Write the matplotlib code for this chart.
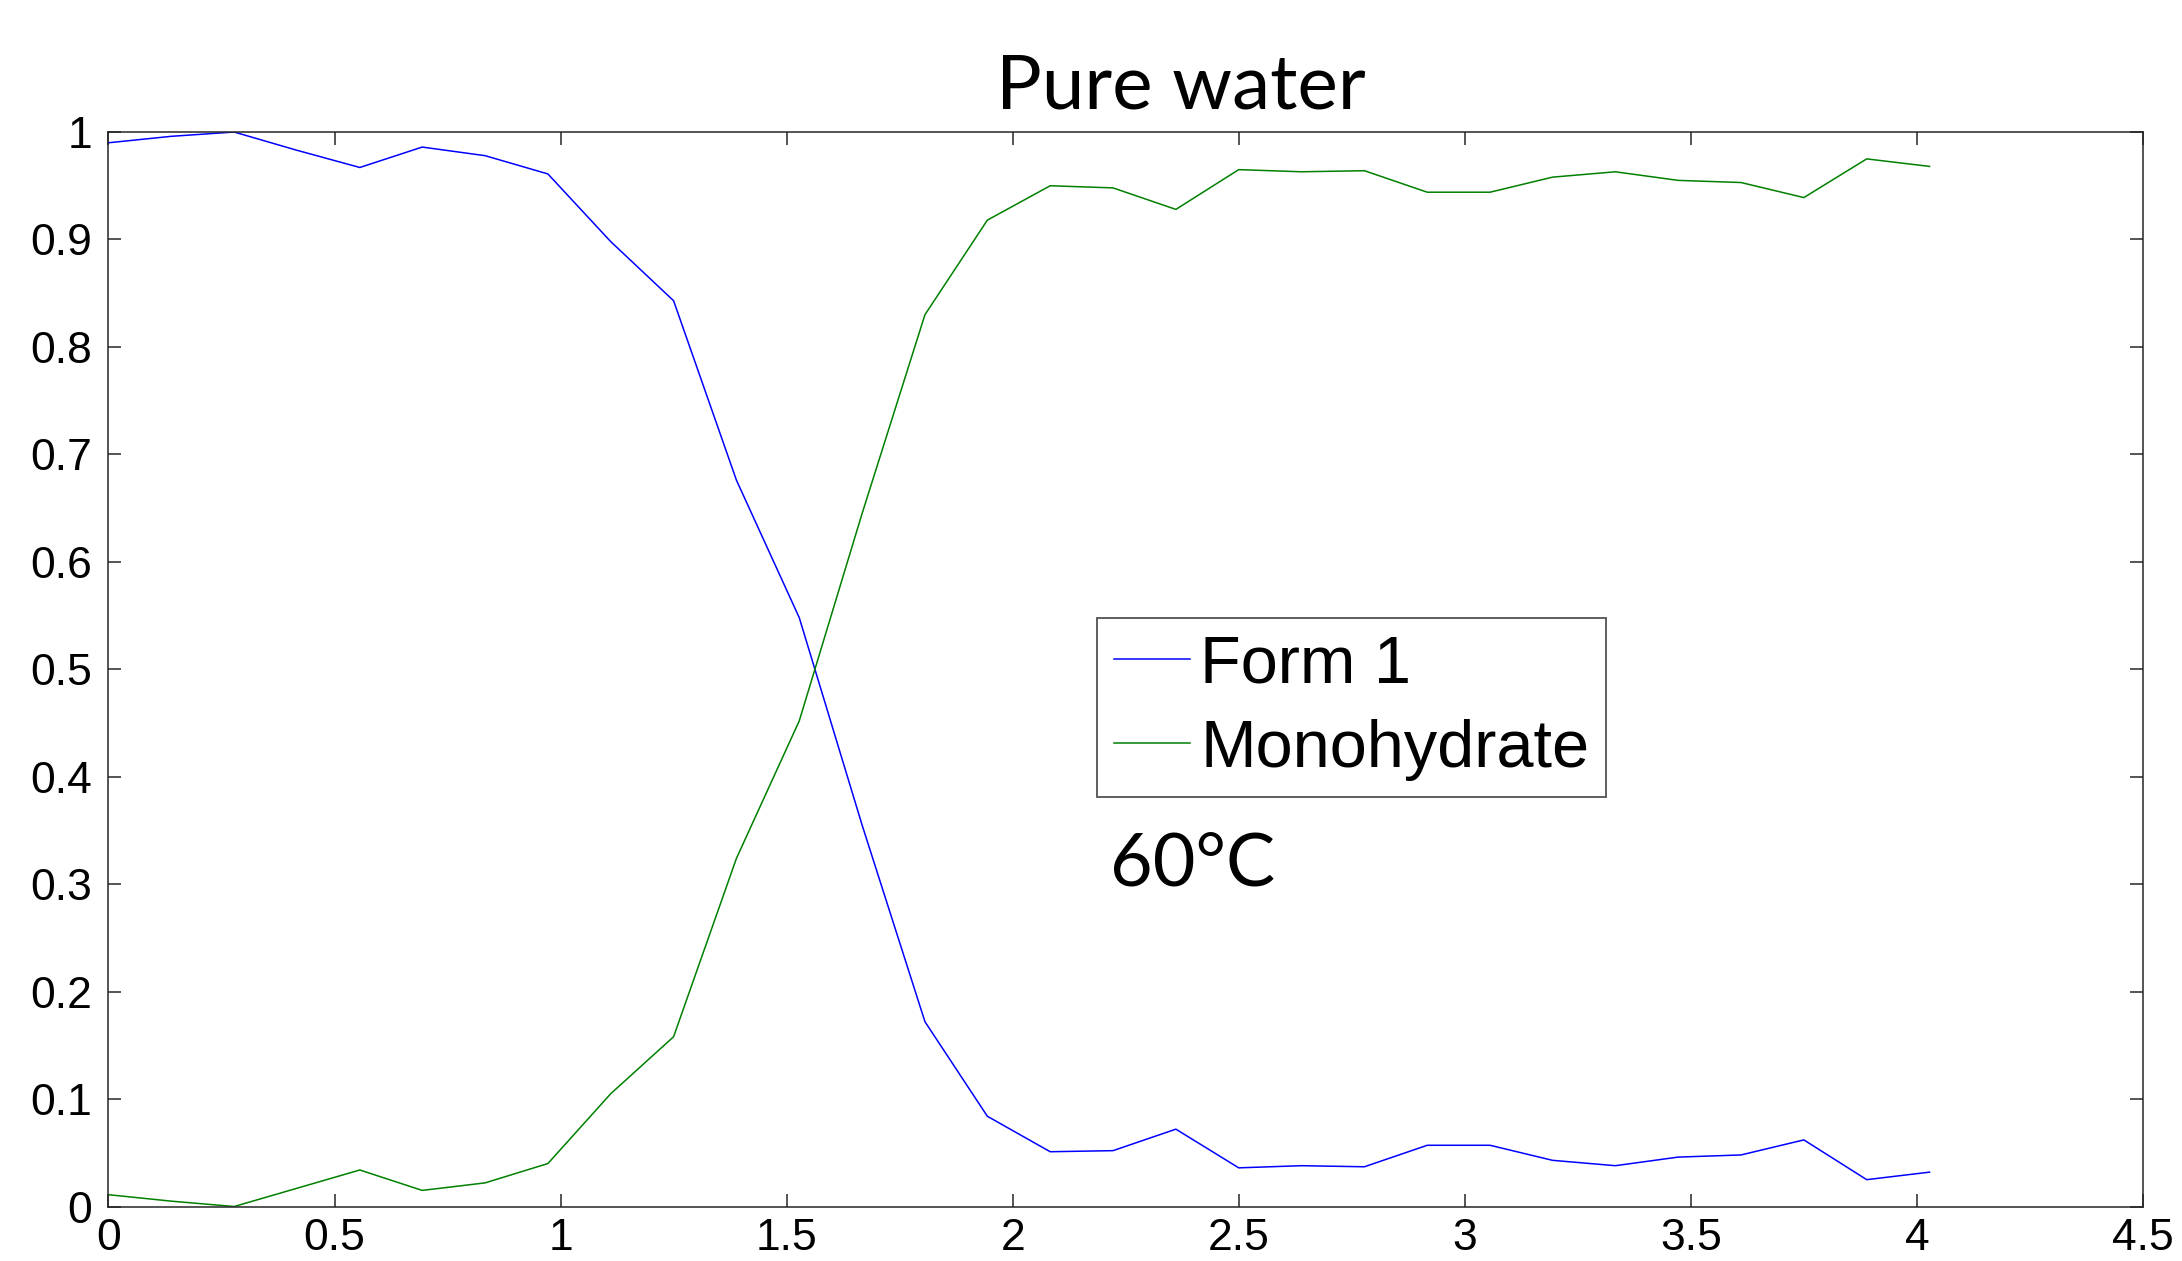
import matplotlib
matplotlib.use("Agg")
import matplotlib.pyplot as plt

# time axis (sampling every ~0.139)
time = [0.000, 0.139, 0.278, 0.417, 0.556, 0.694, 0.833, 0.972, 1.111, 1.250,
        1.389, 1.528, 1.667, 1.806, 1.944, 2.083, 2.222, 2.361, 2.500, 2.639,
        2.778, 2.917, 3.056, 3.194, 3.333, 3.472, 3.611, 3.750, 3.889, 4.028]
form1 = [0.990, 0.996, 1.000, 0.983, 0.967, 0.986, 0.978, 0.961, 0.898, 0.843,
         0.676, 0.548, 0.355, 0.172, 0.084, 0.051, 0.052, 0.072, 0.036, 0.038,
         0.037, 0.057, 0.057, 0.043, 0.038, 0.046, 0.048, 0.062, 0.025, 0.032]
mono = [0.011, 0.005, 0.000, 0.017, 0.034, 0.015, 0.022, 0.040, 0.105, 0.158,
        0.324, 0.452, 0.645, 0.830, 0.918, 0.950, 0.948, 0.928, 0.965, 0.963,
        0.964, 0.944, 0.944, 0.958, 0.963, 0.955, 0.953, 0.939, 0.975, 0.968]
labels = ["Form 1", "Monohydrate"]
xticks = [0, 0.5, 1, 1.5, 2, 2.5, 3, 3.5, 4, 4.5]
yticks = [0, 0.1, 0.2, 0.3, 0.4, 0.5, 0.6, 0.7, 0.8, 0.9, 1]

tick_font = ["Liberation Sans", "DejaVu Sans"]

fig = plt.figure(figsize=(21.82, 12.61), dpi=100)
ax = fig.add_axes([0.0497, 0.0432, 0.9324, 0.8521])

ax.plot(time, form1, color=(0, 0, 1), lw=1.1, label=labels[0])
ax.plot(time, mono, color=(0, 0.5, 0), lw=1.1, label=labels[1])

ax.set_xlim(0, 4.5)
ax.set_ylim(0, 1)
ax.set_xticks(xticks)
ax.set_xticklabels([f"{t:g}" for t in xticks])
ax.set_yticks(yticks)
ax.set_yticklabels([f"{t:g}" for t in yticks])
ax.tick_params(direction="in", length=9.5, width=1.1, color="#262626",
               top=True, right=True, labelsize=32)
ax.tick_params(axis="x", pad=8)
ax.tick_params(axis="y", pad=12)
for lab in ax.get_xticklabels() + ax.get_yticklabels():
    lab.set_family(tick_font)
for sp in ax.spines.values():
    sp.set_color("#262626")
    sp.set_linewidth(1.1)

leg = ax.legend(loc="upper left", bbox_to_anchor=(0.5028, 0.5099),
                bbox_transform=fig.transFigure, fancybox=False,
                prop={"family": tick_font, "size": 48},
                handlelength=1.15, handletextpad=0.15, borderpad=0.25,
                labelspacing=0.33, borderaxespad=0)
leg.get_frame().set_edgecolor("#262626")
leg.get_frame().set_linewidth(1.3)

fig.text(0.541, 0.914, "Pure water", ha="center", va="baseline",
         family="Lato", fontsize=55)
fig.text(0.5085, 0.298, "60°C", ha="left", va="baseline",
         family="Lato", fontsize=53)

fig.savefig("out.png", dpi=100)
